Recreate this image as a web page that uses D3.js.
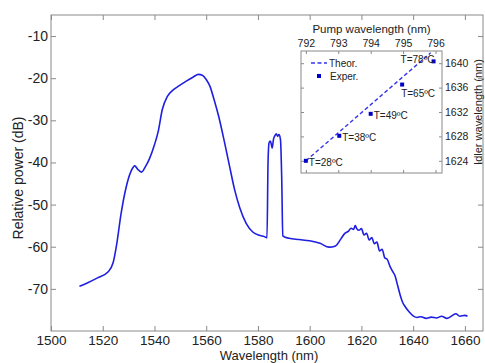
<!DOCTYPE html>
<html>
<head>
<meta charset="utf-8">
<script src="https://cdn.jsdelivr.net/npm/d3@7"></script>
<style>
  body { margin: 0; background: #fff; }
  text { font-family: Arial, "Liberation Sans", sans-serif; fill: #222; }
</style>
</head>
<body>
<script>
// main spectrum
const wavelength = [1511, 1514, 1518, 1522, 1524, 1525.5, 1527, 1529, 1531, 1532.4, 1533.5, 1535, 1536.5, 1538, 1540, 1541.5, 1543, 1545, 1547, 1549, 1552, 1555, 1557, 1558.5, 1560, 1561.5, 1563, 1565, 1567, 1569, 1571, 1573, 1575.5, 1578, 1580.5, 1582.5, 1583.5, 1583.9, 1584.3, 1584.8, 1585.2, 1585.5, 1586, 1586.6, 1587.1, 1587.6, 1588.1, 1588.7, 1589.2, 1589.6, 1592, 1596, 1600, 1604, 1607.5, 1610, 1612, 1613.5, 1615, 1616, 1617, 1617.6, 1618.3, 1619, 1620, 1621, 1622, 1623, 1624, 1625, 1626, 1627, 1628, 1629, 1630, 1631, 1632, 1633, 1634, 1635, 1636, 1637, 1638.5, 1640, 1641.5, 1643, 1645, 1647, 1649, 1651, 1653, 1655, 1656.5, 1658, 1660, 1661];
const power = [-69.4, -68.6, -67.4, -66.0, -63.8, -59, -52.5, -46, -42, -40.8, -41.6, -42.3, -41, -39.2, -35.8, -32.5, -27.5, -24.3, -22.9, -22.0, -20.8, -19.7, -19.1, -19.3, -20.3, -22, -25, -29.5, -35, -40.8, -46.5, -50.8, -54.5, -56.5, -57.3, -57.6, -57.9, -40, -35.3, -34.9, -35.8, -36.6, -34.5, -33.6, -33.2, -33.8, -33.4, -34.5, -44, -57.4, -58.0, -58.3, -58.6, -59.2, -60.1, -59.8, -58.2, -56.9, -56.3, -55.6, -55.9, -55.0, -55.8, -56.1, -55.7, -57.2, -56.8, -58.4, -57.8, -59.3, -58.9, -61.0, -60.6, -62.6, -63.0, -64.6, -65.8, -66.9, -69.2, -71.5, -73.3, -74.3, -75.5, -76.4, -76.8, -76.6, -77.0, -76.7, -76.9, -76.5, -77.0, -76.4, -75.9, -76.5, -76.3, -76.5];
const xTicks = [1500, 1520, 1540, 1560, 1580, 1600, 1620, 1640, 1660];
const yTicks = [-70, -60, -50, -40, -30, -20, -10];

// inset: tuning
const pump = [792, 793.03, 794.0, 794.97, 795.94];
const idler = [1624, 1628.1, 1631.7, 1636.5, 1640.3];
const tempLabels = ['T=28ºC', 'T=38ºC', 'T=49ºC', 'T=65ºC', 'T=78ºC'];
const theorPump = [792, 795.85];
const theorIdler = [1624, 1641.7];
const pumpTicks = [792, 793, 794, 795, 796];
const idlerTicks = [1624, 1628, 1632, 1636, 1640];

const W = 485, H = 363;
const svg = d3.select('body').append('svg')
  .attr('width', W).attr('height', H);

const m = {left: 51, right: 483, top: 15, bottom: 331};
const x = d3.scaleLinear().domain([1500, 1667]).range([m.left, m.right]);
const y = d3.scaleLinear().domain([-80, -5]).range([m.bottom, m.top]);

const axisCol = '#8a8a8a';

// frame
svg.append('rect')
  .attr('x', m.left).attr('y', m.top)
  .attr('width', m.right - m.left).attr('height', m.bottom - m.top)
  .attr('fill', 'none').attr('stroke', axisCol).attr('stroke-width', 1);

// ticks point inward, labels left/bottom only
const gx = svg.append('g').attr('transform', `translate(0,${m.bottom})`)
  .call(d3.axisBottom(x).tickValues(xTicks).tickSize(-5).tickPadding(4).tickFormat(d3.format('d')));
const gxt = svg.append('g').attr('transform', `translate(0,${m.top})`)
  .call(d3.axisTop(x).tickValues(xTicks).tickSize(-5).tickFormat(''));
const gy = svg.append('g').attr('transform', `translate(${m.left},0)`)
  .call(d3.axisLeft(y).tickValues(yTicks).tickSize(-5).tickPadding(3));
const gyr = svg.append('g').attr('transform', `translate(${m.right},0)`)
  .call(d3.axisRight(y).tickValues(yTicks).tickSize(-5).tickFormat(''));

[gx, gxt, gy, gyr].forEach(g => {
  g.select('.domain').remove();
  g.selectAll('line').attr('stroke', axisCol);
  g.selectAll('text').style('font-size', '14px').attr('fill', '#222');
});
gx.selectAll('text').style('font-size', '13.5px');
gy.selectAll('text').text(d => '-' + Math.abs(d));

svg.append('text')
  .attr('x', (m.left + m.right) / 2 + 2).attr('y', 360)
  .attr('text-anchor', 'middle').style('font-size', '13px')
  .text('Wavelength (nm)');
svg.append('text')
  .attr('transform', `translate(23,${(m.top + m.bottom) / 2 + 5}) rotate(-90)`)
  .attr('text-anchor', 'middle').style('font-size', '14px')
  .text('Relative power (dB)');

const line = d3.line()
  .x(i => x(wavelength[i])).y(i => y(power[i]))
  .curve(d3.curveMonotoneX);
svg.append('path')
  .attr('d', line(d3.range(wavelength.length)))
  .attr('fill', 'none').attr('stroke', '#1f1fe0').attr('stroke-width', 1.6)
  .attr('stroke-linejoin', 'round');

// ---- inset ----
const im = {left: 301, right: 442, top: 51, bottom: 173};
const ix = d3.scaleLinear().domain([791.85, 796.2]).range([im.left, im.right]);
const iy = d3.scaleLinear().domain([1622, 1642]).range([im.bottom, im.top]);

svg.append('rect')
  .attr('x', im.left).attr('y', im.top)
  .attr('width', im.right - im.left).attr('height', im.bottom - im.top)
  .attr('fill', '#fff').attr('stroke', axisCol);

const ixt = svg.append('g').attr('transform', `translate(0,${im.top})`)
  .call(d3.axisTop(ix).tickValues(pumpTicks).tickSize(-3).tickPadding(4).tickFormat(d3.format('d')));
const ixb = svg.append('g').attr('transform', `translate(0,${im.bottom})`)
  .call(d3.axisBottom(ix).tickValues(pumpTicks).tickSize(-3).tickFormat(''));
const iyr = svg.append('g').attr('transform', `translate(${im.right},0)`)
  .call(d3.axisRight(iy).tickValues(idlerTicks).tickSize(-3).tickPadding(3).tickFormat(d3.format('d')));
const iyl = svg.append('g').attr('transform', `translate(${im.left},0)`)
  .call(d3.axisLeft(iy).tickValues(idlerTicks).tickSize(-3).tickFormat(''));
[ixt, ixb, iyr, iyl].forEach(g => {
  g.select('.domain').remove();
  g.selectAll('line').attr('stroke', axisCol);
  g.selectAll('text').style('font-size', '10.5px').attr('fill', '#222');
});

svg.append('text')
  .attr('x', (im.left + im.right) / 2).attr('y', 33)
  .attr('text-anchor', 'middle').style('font-size', '11.5px')
  .text('Pump wavelength (nm)');
svg.append('text')
  .attr('transform', `translate(482,${(im.top + im.bottom) / 2}) rotate(-90)`)
  .attr('text-anchor', 'middle').style('font-size', '11px')
  .text('Idler wavelength (nm)');

svg.append('line')
  .attr('x1', ix(theorPump[0])).attr('y1', iy(theorIdler[0]))
  .attr('x2', ix(theorPump[1])).attr('y2', iy(theorIdler[1]))
  .attr('stroke', '#3535f0').attr('stroke-width', 1.4).attr('stroke-dasharray', '4,2.5');

svg.selectAll('rect.pt').data(d3.range(pump.length)).join('rect')
  .attr('class', 'pt')
  .attr('x', i => ix(pump[i]) - 2).attr('y', i => iy(idler[i]) - 2)
  .attr('width', 4).attr('height', 4).attr('fill', '#0000c8');

const labOff = [[3, 5], [3, 5], [3, 5], [-1, 12], [-33, 2]];
svg.selectAll('text.tl').data(d3.range(pump.length)).join('text')
  .attr('class', 'tl')
  .attr('x', i => ix(pump[i]) + labOff[i][0])
  .attr('y', i => iy(idler[i]) + labOff[i][1])
  .style('font-size', '10px')
  .text(i => tempLabels[i]);

// legend
svg.append('line')
  .attr('x1', 311).attr('x2', 327).attr('y1', 63).attr('y2', 63)
  .attr('stroke', '#3535f0').attr('stroke-width', 1.4).attr('stroke-dasharray', '4,2.5');
svg.append('text').attr('x', 329).attr('y', 67).style('font-size', '10px').text('Theor.');
svg.append('rect').attr('x', 317).attr('y', 74).attr('width', 4).attr('height', 4).attr('fill', '#0000c8');
svg.append('text').attr('x', 330).attr('y', 80).style('font-size', '10px').text('Exper.');
</script>
</body>
</html>
